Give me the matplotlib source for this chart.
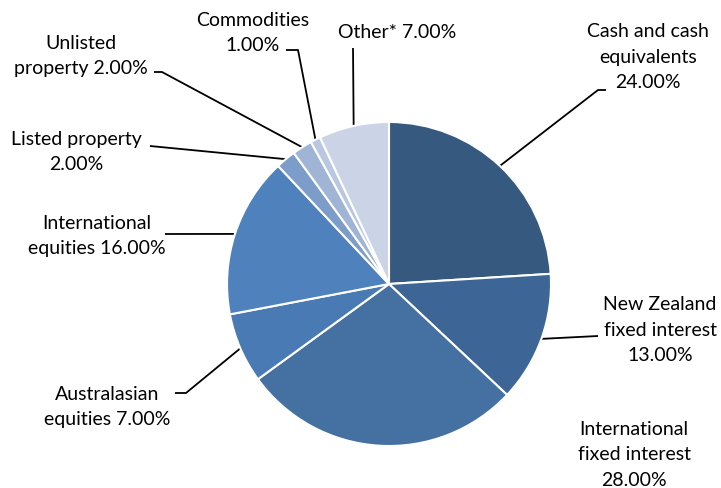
import numpy as np
import matplotlib
matplotlib.use("Agg")
import matplotlib.pyplot as plt

categories = ["Cash and cash\nequivalents", "New Zealand\nfixed interest", "International\nfixed interest",
              "Australasian\nequities", "International\nequities", "Listed property",
              "Unlisted\nproperty", "Commodities", "Other*"]
values = [24.0, 13.0, 28.0, 7.0, 16.0, 2.0, 2.0, 1.0, 7.0]
label_texts = ["Cash and cash\nequivalents\n24.00%", "New Zealand\nfixed interest\n13.00%",
               "International\nfixed interest\n28.00%", "Australasian\nequities 7.00%",
               "International\nequities 16.00%", "Listed property\n2.00%",
               "Unlisted\nproperty 2.00%", "Commodities\n1.00%", "Other* 7.00%"]
colors = ["#36597f", "#3d6596", "#4470a2", "#4a7ab3", "#4f81bd", "#7c9cc9", "#a0b4d6", "#b9c7e2", "#cbd4e6"]

W, H = 721, 488
fig = plt.figure(figsize=(W / 100, H / 100), dpi=100)
ax = fig.add_axes([0, 0, 1, 1])

cx, cy, r = 389, H - 284, 162
wedges, _ = ax.pie(values, colors=colors, startangle=90, counterclock=False,
                   center=(cx, cy), radius=r, frame=True,
                   wedgeprops=dict(edgecolor="white", linewidth=1.5))
ax.set_xlim(0, W)
ax.set_ylim(0, H)
ax.set_aspect("equal")
ax.axis("off")

font = dict(family="Lato", fontsize=14, color="#000000", linespacing=1.58)

# label layout: (text center x, text center y, elbow points) in pixel coords (y from top)
layout = [
    (648, 57, [(598, 90), (606, 90)]),
    (660, 330, [(598, 336)]),
    (634, 455, None),
    (107, 407, [(186, 393), (175, 393)]),
    (97, 236, [(165, 234)]),
    (76, 152, [(150, 146)]),
    (81, 56, [(162, 72), (154, 72)]),
    (253, 33, [(298, 50), (286, 50)]),
    (397, 32, [(353, 48)]),
]

for w, txt, lay in zip(wedges, label_texts, layout):
    tx, ty, elbows = lay
    ax.text(tx, H - ty, txt, ha="center", va="center", **font)
    if elbows:
        th = np.deg2rad((w.theta1 + w.theta2) / 2)
        p0 = (cx + r * np.cos(th), cy + r * np.sin(th))
        xs = [p0[0]] + [p[0] for p in elbows]
        ys = [p0[1]] + [H - p[1] for p in elbows]
        ax.plot(xs, ys, color="black", lw=1.3, solid_capstyle="butt", zorder=0)

fig.savefig("out.png", dpi=100)
